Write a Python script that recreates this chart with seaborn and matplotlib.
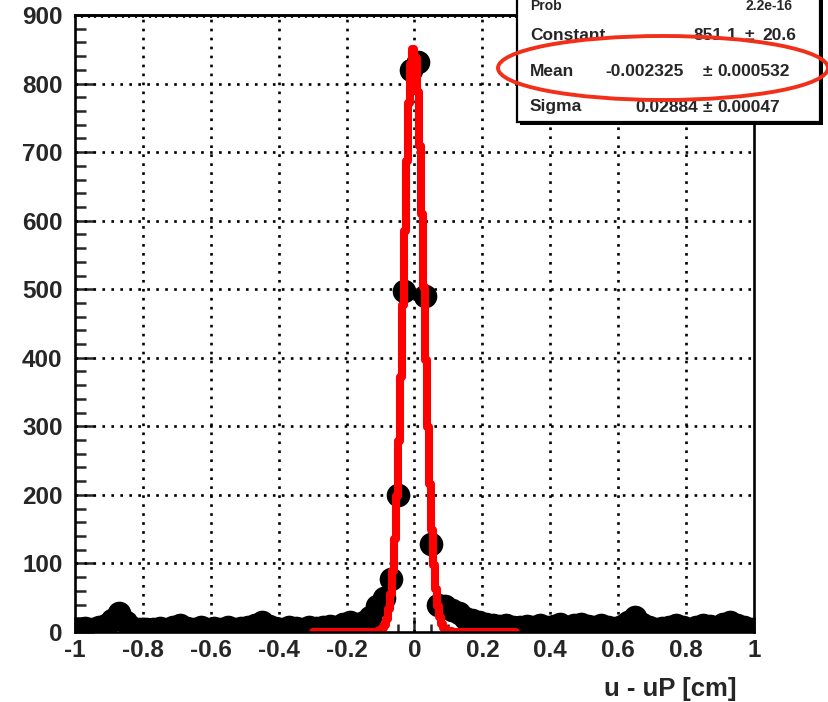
import numpy as np
import pandas as pd
import matplotlib
matplotlib.use("Agg")
import matplotlib.pyplot as plt
from matplotlib.patches import Rectangle, Ellipse
from matplotlib.ticker import FixedLocator, MultipleLocator, NullFormatter
import seaborn as sns

# ---------------- data ----------------
bin_lo, bin_hi, n_bins = -1.0, 1.0, 100
bin_centers = np.round(np.linspace(bin_lo + 0.01, bin_hi - 0.01, n_bins), 2)
counts = [
    5, 6, 4, 7, 10, 18, 28, 15, 6, 5,
    4, 5, 6, 4, 7, 10, 6, 5, 8, 5,
    6, 4, 7, 5, 6, 8, 10, 14, 9, 6,
    5, 7, 6, 5, 8, 6, 7, 9, 8, 12,
    15, 12, 14, 22, 38, 50, 78, 200, 497, 820,
    832, 490, 128, 40, 38, 32, 27, 21, 17, 14,
    12, 10, 9, 10, 8, 7, 9, 8, 10, 8,
    9, 11, 8, 10, 12, 9, 8, 10, 7, 6,
    9, 15, 22, 12, 7, 5, 6, 8, 10, 7,
    5, 8, 10, 9, 8, 12, 14, 10, 7, 5,
]
fit_constant, fit_constant_err = 851.1, 20.6
fit_mean, fit_mean_err = -0.002325, 0.000532
fit_sigma, fit_sigma_err = 0.02884, 0.00047
fit_range = (-0.3, 0.3)
fit_npx = 100

x_ticks = [-1, -0.8, -0.6, -0.4, -0.2, 0, 0.2, 0.4, 0.6, 0.8, 1]
x_tick_labels = ["-1", "-0.8", "-0.6", "-0.4", "-0.2", "0", "0.2", "0.4", "0.6", "0.8", "1"]
y_ticks = [0, 100, 200, 300, 400, 500, 600, 700, 800, 900]
y_tick_labels = ["0", "100", "200", "300", "400", "500", "600", "700", "800", "900"]
x_title = "u - uP [cm]"

hist_df = pd.DataFrame({"x": bin_centers, "count": counts})
fit_x = np.linspace(fit_range[0], fit_range[1], fit_npx)
fit_y = fit_constant * np.exp(-0.5 * ((fit_x - fit_mean) / fit_sigma) ** 2)
fit_df = pd.DataFrame({"x": fit_x, "y": fit_y})

# ---------------- style ----------------
sns.set_style("white")
plt.rcParams["font.family"] = ["Liberation Sans", "DejaVu Sans"]
plt.rcParams["font.weight"] = "bold"
plt.rcParams["axes.unicode_minus"] = False

W, H = 829, 702
fig = plt.figure(figsize=(W / 100, H / 100), dpi=100)
fig.patch.set_facecolor("white")

def fx(px):
    return px / W

def fy(py):
    return 1 - py / H

ax_l, ax_r, ax_t, ax_b = 75, 754, 15, 632
ax = fig.add_axes([fx(ax_l), fy(ax_b), (ax_r - ax_l) / W, (ax_b - ax_t) / H])
ax.set_facecolor("white")

# grid
for gx in x_ticks[1:-1]:
    ax.axvline(gx, color="black", lw=1.9, linestyle=(0, (1.0, 2.4)), zorder=1)
for gy in y_ticks[1:-1]:
    ax.axhline(gy, color="black", lw=1.9, linestyle=(0, (1.0, 2.4)), zorder=1)

# histogram points
sns.scatterplot(data=hist_df, x="x", y="count", ax=ax, color="black",
                s=290, linewidth=0, marker="o", zorder=3, legend=False,
                clip_on=True)

# gaussian fit
sns.lineplot(data=fit_df, x="x", y="y", ax=ax, color="#ff0000", lw=5.8,
             drawstyle="steps-mid", zorder=4, legend=False)

ax.set_xlim(bin_lo, bin_hi)
ax.set_ylim(0, 900)
ax.set_xlabel("")
ax.set_ylabel("")

ax.xaxis.set_major_locator(FixedLocator(x_ticks))
ax.set_xticklabels(x_tick_labels)
ax.yaxis.set_major_locator(FixedLocator(y_ticks))
ax.set_yticklabels(y_tick_labels)
ax.xaxis.set_minor_locator(MultipleLocator(0.05))
ax.yaxis.set_minor_locator(MultipleLocator(20))

tick_fs = 17.5
ax.tick_params(axis="y", which="major", direction="in", length=14, width=1.8,
               left=True, right=False, labelsize=tick_fs, pad=9)
ax.tick_params(axis="y", which="minor", direction="in", length=8, width=1.8,
               left=True, right=False)
ax.tick_params(axis="x", which="major", direction="in", length=11, width=1.8,
               bottom=True, top=False, labelsize=tick_fs, pad=5)
ax.tick_params(axis="x", which="minor", direction="in", length=6, width=1.8,
               bottom=True, top=False)
for lab in ax.get_xticklabels() + ax.get_yticklabels():
    lab.set_fontweight("bold")

for side in ["left", "bottom", "right", "top"]:
    ax.spines[side].set_visible(True)
    ax.spines[side].set_linewidth(1.9)
    ax.spines[side].set_color("black")
    ax.spines[side].set_zorder(5)

# top axis fine ticks
sec = ax.secondary_xaxis("top")
sec.xaxis.set_major_locator(MultipleLocator(0.02))
sec.xaxis.set_major_formatter(NullFormatter())
sec.tick_params(axis="x", direction="in", length=2.5, width=1.6)
sec.spines["top"].set_linewidth(1.9)

# x title
fig.text(fx(737), fy(689), x_title, ha="right", va="center",
         fontsize=18.5, fontweight="bold")

# ---------------- stat box ----------------
bx_l, bx_r, bx_t, bx_b = 517, 820, -10, 122
shadow = Rectangle((fx(bx_l + 3), fy(bx_b + 3)), (bx_r - bx_l) / W, (bx_b - bx_t) / H,
                   transform=fig.transFigure, facecolor="black", edgecolor="black",
                   lw=0, zorder=10)
box = Rectangle((fx(bx_l), fy(bx_b)), (bx_r - bx_l) / W, (bx_b - bx_t) / H,
                transform=fig.transFigure, facecolor="white", edgecolor="black",
                lw=1.6, zorder=11)
fig.add_artist(shadow)
fig.add_artist(box)

stat_fs = 12.5
def stat_text(px, py, s, ha, fs=stat_fs):
    fig.text(fx(px), fy(py), s, ha=ha, va="center", fontsize=fs,
             fontweight="bold", zorder=12)

stat_text(530, 6, "Prob", "left", 10)
stat_text(793, 6, "2.2e-16", "right", 10)
stat_text(530, 35, "Constant", "left")
stat_text(737, 35, f"{fit_constant:.1f}", "right")
stat_text(749, 35, "\u00b1", "center")
stat_text(762, 35, f"{fit_constant_err:.1f}", "left")
stat_text(530, 71, "Mean", "left")
stat_text(684, 71, f"{fit_mean:.6f}", "right")
stat_text(707, 71, "\u00b1", "center")
stat_text(717, 71, f"{fit_mean_err:.6f}", "left")
stat_text(530, 107, "Sigma", "left")
stat_text(698, 107, f"{fit_sigma:.5f}", "right")
stat_text(707, 107, "\u00b1", "center")
stat_text(717, 107, f"{fit_sigma_err:.5f}", "left")

# red hand-drawn ellipse around the Mean row
ell = Ellipse((fx(663), fy(68)), 330 / W, 64 / H, transform=fig.transFigure,
              fill=False, edgecolor="#f2301a", lw=2.8, zorder=13)
fig.add_artist(ell)

fig.savefig("out.png", dpi=100, facecolor="white")
